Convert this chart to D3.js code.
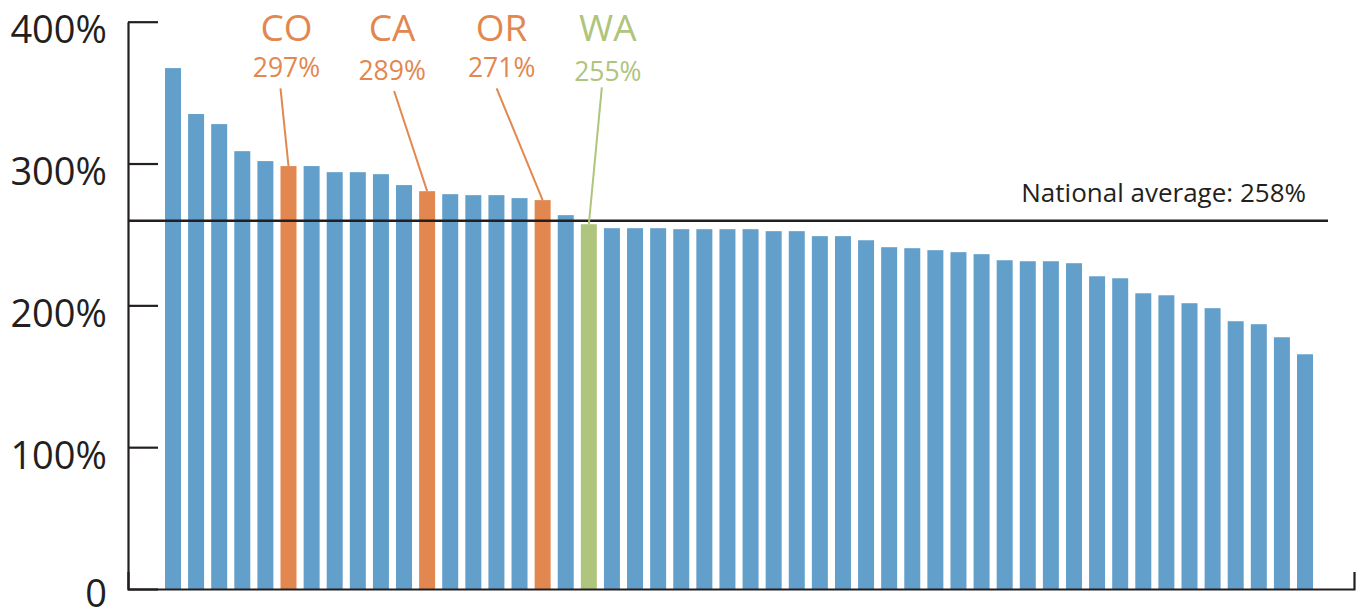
<!DOCTYPE html>
<html>
<head>
<meta charset="utf-8">
<script src="https://cdn.jsdelivr.net/npm/d3@7"></script>
<style>
  html, body { margin: 0; padding: 0; background: #ffffff; }
  svg { display: block; }
  text { font-family: "Open Sans", "Noto Sans", sans-serif; }
</style>
</head>
<body>
<svg id="chart" width="1356" height="612"></svg>
<script>
// ---- data ----
const ranks = d3.range(1, 51);   // 50 states, sorted high to low
const values = [
  367.3, 334.9, 327.8, 308.7, 301.7, 298.2, 298.2, 293.9, 293.9, 292.5,
  284.8, 280.5, 278.4, 277.7, 277.7, 275.6, 274.2, 263.6, 257.2, 254.4,
  254.4, 254.4, 253.7, 253.7, 253.7, 253.7, 252.3, 252.3, 248.8, 248.8,
  245.9, 241.0, 240.3, 238.9, 237.5, 236.1, 231.8, 231.1, 231.1, 229.7,
  220.5, 219.1, 208.5, 207.1, 201.5, 198.0, 188.8, 186.7, 177.5, 165.5
];
const highlightStates = ["CO", "CA", "OR", "WA"];
const highlightRanks = [6, 12, 17, 19];
const highlightLabels = ["297%", "289%", "271%", "255%"];
const highlightGroups = ["orange", "orange", "orange", "green"];
const yTicks = [0, 100, 200, 300, 400];
const nationalAverageLine = 259.6;
const nationalAverageLabel = "National average: 258%";

// ---- layout / style ----
const ink = "#231f20";
const colors = { blue: "#629fca", orange: "#e2874f", green: "#afc47c" };
const svg = d3.select("#chart");

const y = d3.scaleLinear().domain([0, 400]).range([589, 21.7]);
const x = d3.scaleBand().domain(ranks).range([165, 1313])
  .paddingInner(0.308).paddingOuter(0);
const axisLeftX = 128, axisRightX = 1354;

// bars
svg.append("g").selectAll("rect")
  .data(ranks)
  .join("rect")
  .attr("x", r => x(r))
  .attr("width", x.bandwidth())
  .attr("y", (r, i) => y(values[i]))
  .attr("height", (r, i) => y(0) - y(values[i]))
  .attr("fill", r => {
    const k = highlightRanks.indexOf(r);
    return k < 0 ? colors.blue : colors[highlightGroups[k]];
  });

// y axis
const yAxis = d3.axisLeft(y)
  .tickValues(yTicks)
  .tickFormat(d => d === 0 ? "0" : d + "%")
  .tickSizeInner(-30)
  .tickSizeOuter(0)
  .tickPadding(21);
const gy = svg.append("g").attr("transform", `translate(${axisLeftX},0)`).call(yAxis);
gy.select(".domain").attr("stroke", ink).attr("stroke-width", 2.2);
gy.selectAll(".tick line").attr("stroke", ink).attr("stroke-width", 2.2);
gy.selectAll(".tick text")
  .attr("fill", ink)
  .attr("font-size", 38)
  .attr("font-family", '"Open Sans", sans-serif')
  .attr("dy", d => d === 0 ? "0.46em" : "0.56em");

// x axis baseline with right end stub
const xLine = d3.scaleLinear().domain([0, 1]).range([axisLeftX, axisRightX]);
const gx = svg.append("g").attr("transform", `translate(0,${y(0)})`)
  .call(d3.axisBottom(xLine).tickValues([]).tickSizeOuter(-17));
gx.select(".domain").attr("stroke", ink).attr("stroke-width", 2.2);

// national average line
svg.append("line")
  .attr("x1", axisLeftX).attr("x2", 1328)
  .attr("y1", y(nationalAverageLine)).attr("y2", y(nationalAverageLine))
  .attr("stroke", ink).attr("stroke-width", 2.4);
svg.append("text")
  .attr("x", 1306).attr("y", 201.7)
  .attr("text-anchor", "end")
  .attr("font-size", 26)
  .attr("fill", ink)
  .text(nationalAverageLabel);

// highlight annotations
const labelDx = [-2, -35, -41, 19];       // label centre offset from bar centre
const valueBaseline = [76.7, 80, 76.7, 81];
const leaderTopDx = [-8, -33, -46, 13];
const leaderTopY = [88.3, 91, 88.3, 87.3];

highlightStates.forEach((st, k) => {
  const r = highlightRanks[k];
  const v = values[r - 1];
  const cx = x(r) + x.bandwidth() / 2;
  const col = colors[highlightGroups[k]];
  const lx = cx + labelDx[k];
  svg.append("text")
    .attr("x", lx).attr("y", 40.7)
    .attr("text-anchor", "middle")
    .attr("font-size", 37)
    .attr("fill", col)
    .text(st);
  svg.append("text")
    .attr("x", lx).attr("y", valueBaseline[k])
    .attr("text-anchor", "middle")
    .attr("font-size", 26.5)
    .attr("fill", col)
    .text(highlightLabels[k]);
  svg.append("line")
    .attr("x1", cx + leaderTopDx[k]).attr("y1", leaderTopY[k])
    .attr("x2", cx).attr("y2", y(v))
    .attr("stroke", col).attr("stroke-width", 2);
});
</script>
</body>
</html>
